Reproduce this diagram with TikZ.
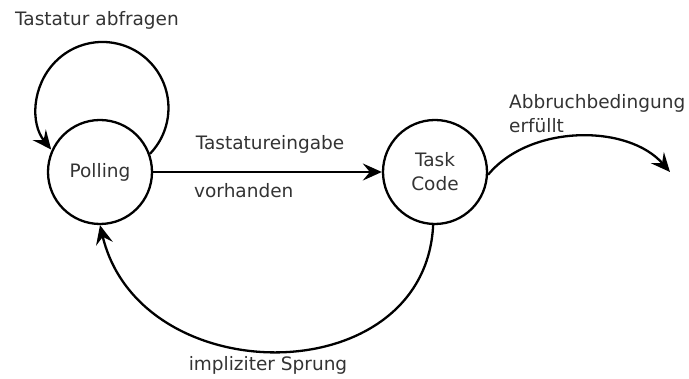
\documentclass[tikz,border=0pt]{standalone}
\usepackage{fontspec}
\setmainfont{DejaVu Sans}
\usetikzlibrary{arrows.meta}
\definecolor{txt}{rgb}{0.2,0.2,0.2}
\begin{document}
\begin{tikzpicture}[x=1pt,y=1pt,
  state/.style={circle,draw,line width=2.3pt,minimum size=104pt,inner sep=0pt,align=center,text=txt,font=\fontsize{18.5}{24}\selectfont},
  lbl/.style={text=txt,font=\fontsize{18.5}{22}\selectfont,inner sep=0pt},
  conn/.style={line width=2.3pt,-{Stealth[length=19pt,width=17pt,inset=7pt]}}]
\useasboundingbox (0,0) rectangle (689,379);
\node[state] (polling) at (100,207) {Polling};
\node[state] (task) at (435,207) {Task\\Code};
\coordinate (exit) at (670,207);
\node[lbl] (tl) at (97,359) {Tastatur abfragen};
\node[lbl] (te) at (270,235) {Tastatureingabe};
\node[lbl,anchor=west] (vh) at (194,188) {vorhanden};
\node[lbl,anchor=west] (ab) at (509,276) {Abbruchbedingung};
\node[lbl,anchor=west] (ef) at (509,253) {erfüllt};
\node[lbl] (is) at (268,14) {impliziter Sprung};
\draw[conn] (polling.20) arc[start angle=-44,end angle=219,radius=66];
\draw[conn] (polling) -- (task);
\draw[conn] (task.-3) .. controls (530,255) and (628,255) .. (exit);
\draw[conn] (task.-92) .. controls (425,-14) and (140,-14) .. (polling.-90);
\end{tikzpicture}
\end{document}
